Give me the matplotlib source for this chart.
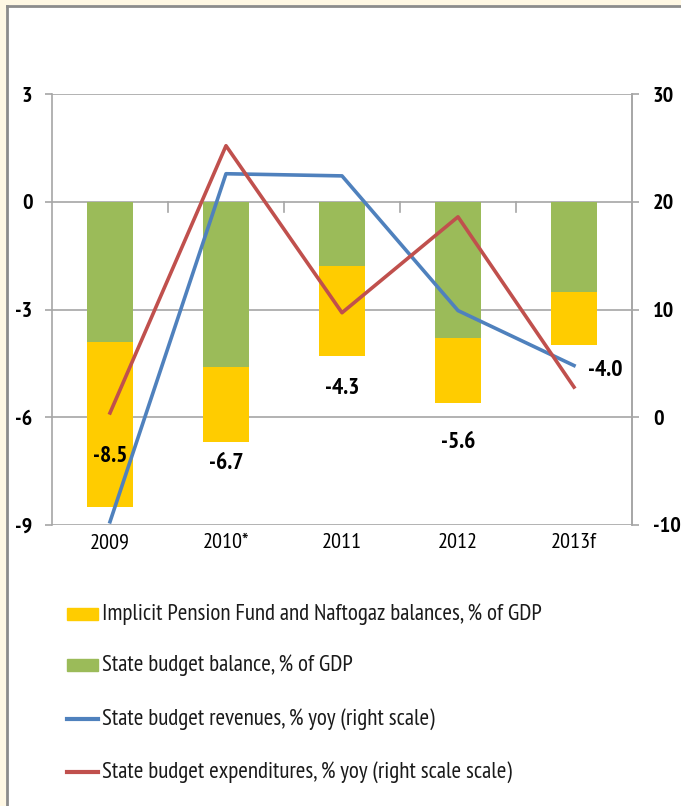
import matplotlib
matplotlib.use('Agg')
import matplotlib.pyplot as plt
from matplotlib import font_manager
from matplotlib.patches import Rectangle
from matplotlib.lines import Line2D
import numpy as np

# data
years = ['2009', '2010*', '2011', '2012', '2013f']
state_balance = [-3.9, -4.6, -1.8, -3.8, -2.5]
implicit_bal = [-4.6, -2.1, -2.5, -1.8, -1.5]
total_labels = ['-8.5', '-6.7', '-4.3', '-5.6', '-4.0']
revenues = [-9.7, 22.6, 22.4, 9.9, 4.8]
expenditures = [0.4, 25.2, 9.7, 18.6, 2.8]

legend_labels = ['Implicit Pension Fund and Naftogaz balances, % of GDP',
                 'State budget balance, % of GDP',
                 'State budget revenues, % yoy (right scale)',
                 'State budget expenditures, % yoy (right scale scale)']

installed = {f.name for f in font_manager.fontManager.ttflist}
fam = 'DejaVu Sans'
for c in ['PT Sans Narrow', 'Carlito', 'Liberation Sans Narrow']:
    if c in installed:
        fam = c
        break
plt.rcParams['font.family'] = [fam, 'DejaVu Sans']
plt.rcParams['axes.unicode_minus'] = False

YELLOW = '#FFCC00'
GREEN = '#9BBB59'
BLUE = '#4F81BD'
RED = '#C0504D'
GREY = '#A6A6A6'

W, H = 681, 806
fig = plt.figure(figsize=(W / 100, H / 100), dpi=100)
fig.patch.set_facecolor('white')

# cream frame and grey border
fig.patches.append(Rectangle((0, 0), 6 / W, 1, transform=fig.transFigure, color='#FFF8E4', zorder=0))
fig.patches.append(Rectangle((0, 1 - 4 / H), 1, 4 / H, transform=fig.transFigure, color='#FFF8E4', zorder=0))
fig.add_artist(Line2D([7 / W, 7 / W], [0, 1 - 5.5 / H], transform=fig.transFigure, color='#8C8C8C', lw=2))
fig.add_artist(Line2D([7 / W, 1], [1 - 5.5 / H, 1 - 5.5 / H], transform=fig.transFigure, color='#8C8C8C', lw=2))

ax = fig.add_axes([52 / W, 1 - 525 / H, 580 / W, 431 / H])
ax.set_facecolor('none')
x = np.arange(len(years))

ax.bar(x, state_balance, width=0.4, color=GREEN, zorder=2)
ax.bar(x, implicit_bal, width=0.4, bottom=state_balance, color=YELLOW, zorder=2)

ax.set_ylim(-9, 3)
ax.set_xlim(-0.5, len(years) - 0.5)
ax.set_yticks([3, 0, -3, -6, -9])
ax.set_yticklabels(['3', '0', '-3', '-6', '-9'])
ax.grid(axis='y', color=GREY, lw=1.2, zorder=1)
ax.set_axisbelow(True)
ax.set_xticks(x)
ax.set_xticklabels(years)
ax.tick_params(axis='x', length=0, pad=6, labelsize=16)
ax.tick_params(axis='y', length=5, color=GREY, width=1.2, pad=9, labelsize=16)
for lab in ax.get_yticklabels():
    lab.set_fontweight('bold')
for s in ['top', 'bottom']:
    ax.spines[s].set_visible(False)
for s in ['left', 'right']:
    ax.spines[s].set_color(GREY)
    ax.spines[s].set_linewidth(1.2)

# category separators at the zero line
for b in np.arange(0.5, len(years) - 0.5, 1.0):
    ax.plot([b, b], [0, -0.28], color=GREY, lw=1.2, zorder=1)

# total labels
lab_y = [-7.1, -7.3, -5.2, -6.7]
for i in range(4):
    ax.text(x[i], lab_y[i], total_labels[i], ha='center', va='center', fontsize=17, fontweight='bold')

ax2 = ax.twinx()
ax2.set_ylim(-10, 30)
ax2.set_yticks([30, 20, 10, 0, -10])
ax2.plot(x, revenues, color=BLUE, lw=2.6, zorder=3)
ax2.plot(x, expenditures, color=RED, lw=2.6, zorder=3)
ax2.tick_params(axis='y', length=5, color=GREY, width=1.2, pad=10, labelsize=16)
for lab in ax2.get_yticklabels():
    lab.set_fontweight('bold')
for s in ['top', 'bottom', 'left']:
    ax2.spines[s].set_visible(False)
ax2.spines['right'].set_color(GREY)
ax2.spines['right'].set_linewidth(1.2)
ax2.text(x[4] + 0.12, 4.3, total_labels[4], ha='left', va='center', fontsize=17, fontweight='bold')

# legend drawn by hand
leg_y = [614, 665, 719, 772]
for i, (lab, yy) in enumerate(zip(legend_labels, leg_y)):
    fy = 1 - yy / H
    if i < 2:
        fig.patches.append(Rectangle((67 / W, fy - 6 / H), 31 / W, 12 / H, transform=fig.transFigure,
                                     color=[YELLOW, GREEN][i]))
    else:
        fig.add_artist(Line2D([67 / W, 98 / W], [fy, fy], transform=fig.transFigure,
                              color=[BLUE, RED][i - 2], lw=3))
    fig.text(102 / W, fy, lab, ha='left', va='center', fontsize=16.6, color='#1a1a1a')

fig.savefig('out.png', dpi=100)
